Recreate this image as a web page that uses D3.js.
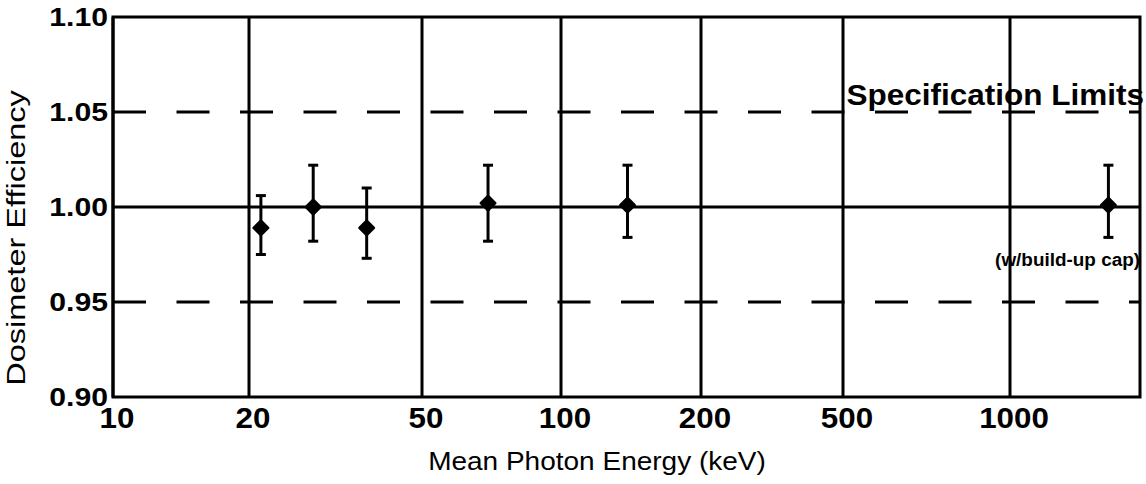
<!DOCTYPE html>
<html>
<head>
<meta charset="utf-8">
<script src="https://cdn.jsdelivr.net/npm/d3@7"></script>
<style>
  body { margin: 0; background: #fff; }
  svg { display: block; font-family: "Liberation Sans", Arial, sans-serif; }
</style>
</head>
<body>
<div id="chart"></div>
<script>
// Data
const energies   = [21.3, 28.1, 37.3, 69.5, 139, 1690];   // keV
const efficiency = [0.989, 1.000, 0.989, 1.002, 1.001, 1.001];
const errHigh    = [1.006, 1.022, 1.010, 1.022, 1.022, 1.022];
const errLow     = [0.975, 0.982, 0.973, 0.982, 0.984, 0.984];

const xTicks = [10, 20, 50, 100, 200, 500, 1000];
const yTicks = [0.90, 0.95, 1.00, 1.05, 1.10];
const specLimits = [0.95, 1.05];

// Page size
const width = 1146,
      height = 484;

const svg = d3.select("#chart").append("svg")
    .attr("width", width)
    .attr("height", height);

// The original axis is a hand-drawn log axis, so each decade piece is calibrated
const x = d3.scaleLog()
    .domain([10, 20, 50, 100, 200, 500, 1000, 2000])
    .range([113, 249, 422, 561, 701, 843, 1010, 1140]);

const y = d3.scaleLinear()
    .domain([0.90, 1.10])
    .range([397, 17]);

const left = x(10), right = x(2000);

// Stretch text horizontally a bit, the scan is wider than the font
function stretch(sel, k) {
    sel.each(function() {
        const w = this.getComputedTextLength();
        d3.select(this)
          .attr("textLength", w * k)
          .attr("lengthAdjust", "spacingAndGlyphs");
    });
}

// Vertical grid lines (solid)
svg.selectAll(".vgrid")
    .data(xTicks)
    .enter().append("line")
    .attr("class", "vgrid")
    .attr("x1", d => x(d)).attr("x2", d => x(d))
    .attr("y1", y(1.10)).attr("y2", y(0.90))
    .style("stroke", "#000")
    .style("stroke-width", 3);

// Frame: top, bottom, right
svg.append("rect")
    .attr("x", left).attr("y", y(1.10))
    .attr("width", right - left).attr("height", y(0.90) - y(1.10))
    .style("fill", "none")
    .style("stroke", "#000")
    .style("stroke-width", 3);

// Nominal line at 1.00
svg.append("line")
    .attr("x1", left).attr("x2", right)
    .attr("y1", y(1.00)).attr("y2", y(1.00))
    .style("stroke", "#000")
    .style("stroke-width", 3);

// Specification limits (dashed)
svg.selectAll(".spec")
    .data(specLimits)
    .enter().append("line")
    .attr("class", "spec")
    .attr("x1", left).attr("x2", right)
    .attr("y1", d => y(d)).attr("y2", d => y(d))
    .style("stroke", "#000")
    .style("stroke-width", 3)
    .style("stroke-dasharray", "33,30.5");

// Y tick labels
svg.selectAll(".ylab")
    .data(yTicks)
    .enter().append("text")
    .attr("class", "ylab")
    .attr("x", left - 5)
    .attr("y", d => y(d))
    .attr("dy", "0.36em")
    .attr("text-anchor", "end")
    .style("font-size", "26px")
    .style("font-weight", "bold")
    .text(d => d.toFixed(2))
    .call(stretch, 1.16);

// X tick labels
svg.selectAll(".xlab")
    .data(xTicks)
    .enter().append("text")
    .attr("class", "xlab")
    .attr("x", d => x(d) + 4)
    .attr("y", 428)
    .attr("text-anchor", "middle")
    .style("font-size", "29px")
    .style("font-weight", "bold")
    .text(d => d)
    .call(stretch, 1.08);

// Axis titles
svg.append("text")
    .attr("x", 597)
    .attr("y", 470)
    .attr("text-anchor", "middle")
    .style("font-size", "25px")
    .text("Mean Photon Energy (keV)")
    .call(stretch, 1.12);

svg.append("text")
    .attr("transform", "translate(25, 238) rotate(-90)")
    .attr("text-anchor", "middle")
    .style("font-size", "25px")
    .text("Dosimeter Efficiency")
    .call(stretch, 1.3);

// Error bars
const pts = energies.map((e, i) => ({ e: e, v: efficiency[i], hi: errHigh[i], lo: errLow[i] }));
const capW = 5;

const bars = svg.selectAll(".err")
    .data(pts)
    .enter().append("g")
    .attr("class", "err")
    .style("stroke", "#000")
    .style("stroke-width", 3);

bars.append("line")
    .attr("x1", d => x(d.e)).attr("x2", d => x(d.e))
    .attr("y1", d => y(d.hi)).attr("y2", d => y(d.lo));
bars.append("line")
    .attr("x1", d => x(d.e) - capW).attr("x2", d => x(d.e) + capW)
    .attr("y1", d => y(d.hi)).attr("y2", d => y(d.hi));
bars.append("line")
    .attr("x1", d => x(d.e) - capW).attr("x2", d => x(d.e) + capW)
    .attr("y1", d => y(d.lo)).attr("y2", d => y(d.lo));

// Markers (rounded diamonds)
svg.selectAll(".pt")
    .data(pts)
    .enter().append("path")
    .attr("class", "pt")
    .attr("d", d3.symbol(d3.symbolSquare, 105))
    .attr("transform", d => `translate(${x(d.e)},${y(d.v)}) rotate(45)`)
    .style("fill", "#000")
    .style("stroke", "#000")
    .style("stroke-width", 2.5)
    .style("stroke-linejoin", "round");

// Annotations
svg.append("text")
    .attr("x", 1144)
    .attr("y", 105)
    .attr("text-anchor", "end")
    .style("font-size", "30px")
    .style("font-weight", "bold")
    .text("Specification Limits")
    .call(stretch, 1.05);

svg.append("text")
    .attr("x", 1140)
    .attr("y", 266)
    .attr("text-anchor", "end")
    .style("font-size", "18px")
    .style("font-weight", "bold")
    .text("(w/build-up cap)")
    .call(stretch, 1.05);
</script>
</body>
</html>
